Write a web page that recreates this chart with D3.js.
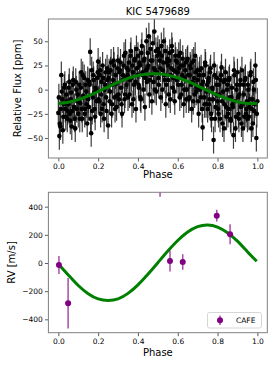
<!DOCTYPE html>
<html><head><meta charset="utf-8">
<script src="https://cdn.jsdelivr.net/npm/d3@7"></script>
<style>body{margin:0;background:#fff}svg{display:block}text{font-family:"DejaVu Sans",sans-serif;fill:#000}</style>
</head><body><svg id="c" width="274" height="366"></svg>
<script>
// ---- data ----
const titleText = "KIC 5479689";
const phaseTicks = [0, 0.2, 0.4, 0.6, 0.8, 1.0];
const fluxTicks = [-50, -25, 0, 25, 50];
const rvTicks = [-400, -200, 0, 200, 400];

const fluxPhase = [
0,.005,.01,.015,.02,.025,.03,.035,.04,.045,
.05,.055,.06,.065,.07,.075,.08,.085,.09,.095,
.1,.105,.11,.115,.12,.125,.13,.135,.14,.145,
.15,.155,.16,.165,.17,.175,.18,.185,.19,.195,
.2,.205,.21,.215,.22,.225,.23,.235,.24,.245,
.25,.255,.26,.265,.27,.275,.28,.285,.29,.295,
.3,.305,.31,.315,.32,.325,.33,.335,.34,.345,
.35,.355,.36,.365,.37,.375,.38,.385,.39,.395,
.4,.405,.41,.415,.42,.425,.43,.435,.44,.445,
.45,.455,.46,.465,.47,.475,.48,.485,.49,.495,
.5,.505,.51,.515,.52,.525,.53,.535,.54,.545,
.55,.555,.56,.565,.57,.575,.58,.585,.59,.595,
.6,.605,.61,.615,.62,.625,.63,.635,.64,.645,
.65,.655,.66,.665,.67,.675,.68,.685,.69,.695,
.7,.705,.71,.715,.72,.725,.73,.735,.74,.745,
.75,.755,.76,.765,.77,.775,.78,.785,.79,.795,
.8,.805,.81,.815,.82,.825,.83,.835,.84,.845,
.85,.855,.86,.865,.87,.875,.88,.885,.89,.895,
.9,.905,.91,.915,.92,.925,.93,.935,.94,.945,
.95,.955,.96,.965,.97,.975,.98,.985,.99,.995,1.0];
const fluxValue = [
-24,-48,-38,15,-10,-28,2,-20,-5,-30,
-15,8,-32,-3,-22,10,-18,-40,0,-12,
-25,5,-14,18,-30,-6,12,-20,-2,-35,
-10,8,39,-45,-22,15,-3,-28,0,12,
29,-12,20,-5,-20,12,-30,5,-8,22,
-37,18,-2,28,-15,10,25,-20,6,-6,
30,-10,20,2,-25,15,35,-5,12,22,
-8,28,10,40,-15,18,5,32,-20,22,
35,2,25,-10,45,15,30,-18,20,8,
38,55,10,30,-12,48,22,0,40,18,
42,5,30,-8,35,20,50,10,-15,28,
25,-5,38,15,45,2,20,-12,30,10,
18,35,-8,25,5,32,-15,12,28,0,
32,-10,15,22,-20,8,30,-5,18,2,
10,-25,20,-8,5,-39,15,-15,25,-2,
-20,12,-10,22,-30,0,-52,15,-18,5,
-12,-25,-5,10,23,-35,8,-15,18,-28,
5,-20,12,-30,-8,-15,-47,15,-40,0,
18,-25,-5,10,-35,-15,5,-28,12,-20,
-30,0,-18,15,-40,-10,8,-22,25,-50,-12];

const fluxPhase2 = [
.0025,.0075,.0125,.0175,.0225,.0275,.0325,.0375,.0425,.0475,
.0525,.0575,.0625,.0675,.0725,.0775,.0825,.0875,.0925,.0975,
.1025,.1075,.1125,.1175,.1225,.1275,.1325,.1375,.1425,.1475,
.1525,.1575,.1625,.1675,.1725,.1775,.1825,.1875,.1925,.1975,
.2025,.2075,.2125,.2175,.2225,.2275,.2325,.2375,.2425,.2475,
.2525,.2575,.2625,.2675,.2725,.2775,.2825,.2875,.2925,.2975,
.3025,.3075,.3125,.3175,.3225,.3275,.3325,.3375,.3425,.3475,
.3525,.3575,.3625,.3675,.3725,.3775,.3825,.3875,.3925,.3975,
.4025,.4075,.4125,.4175,.4225,.4275,.4325,.4375,.4425,.4475,
.4525,.4575,.4625,.4675,.4725,.4775,.4825,.4875,.4925,.4975,
.5025,.5075,.5125,.5175,.5225,.5275,.5325,.5375,.5425,.5475,
.5525,.5575,.5625,.5675,.5725,.5775,.5825,.5875,.5925,.5975,
.6025,.6075,.6125,.6175,.6225,.6275,.6325,.6375,.6425,.6475,
.6525,.6575,.6625,.6675,.6725,.6775,.6825,.6875,.6925,.6975,
.7025,.7075,.7125,.7175,.7225,.7275,.7325,.7375,.7425,.7475,
.7525,.7575,.7625,.7675,.7725,.7775,.7825,.7875,.7925,.7975,
.8025,.8075,.8125,.8175,.8225,.8275,.8325,.8375,.8425,.8475,
.8525,.8575,.8625,.8675,.8725,.8775,.8825,.8875,.8925,.8975,
.9025,.9075,.9125,.9175,.9225,.9275,.9325,.9375,.9425,.9475,
.9525,.9575,.9625,.9675,.9725,.9775,.9825,.9875,.9925,.9975];
const fluxValue2 = [
-8,-35,-20,-2,-42,-15,5,-28,-12,-22,
2,-25,-10,-38,5,-18,-30,8,-20,-5,
-12,-30,2,-20,15,-8,-25,5,-15,10,
-18,5,-30,20,-8,10,-20,2,-12,18,
-10,15,-25,8,25,-15,0,18,-22,10,
12,-12,20,-25,5,30,-8,15,-18,22,
-5,18,28,-15,10,25,-10,38,5,15,
20,-5,35,12,25,-10,30,8,42,15,
5,28,-8,38,18,0,32,12,50,22,
25,-5,42,15,30,8,60,20,-2,35,
12,38,22,45,0,28,15,40,5,32,
10,30,-10,22,40,12,-2,35,18,28,
5,22,38,-5,15,25,0,20,-10,30,
15,-8,25,5,28,-12,12,35,-2,20,
-12,15,0,22,-20,8,-8,28,-15,5,
8,-15,18,-25,2,-10,25,-30,-5,12,
-20,5,-30,15,-12,-2,-40,10,-18,0,
-25,10,-8,-32,2,-18,20,-12,-28,5,
-8,-30,5,-18,20,-40,-5,10,-25,-12,
5,-28,-10,18,-20,-35,0,-15,10,-25];
const fluxErr = 14;

const fluxModelPhase = [0,.05,.1,.15,.2,.25,.3,.35,.4,.45,.5,.55,.6,.65,.7,.75,.8,.85,.9,.95,1];
const fluxModelValue = [-14.4,-13,-10.3,-6.5,-1.9,2.9,7.6,11.6,14.6,16.2,16.4,15,12.3,8.5,3.9,-0.9,-5.6,-9.6,-12.6,-14.2,-14.4];

const rvPhase = [0.003, 0.049, 0.511, 0.561, 0.625, 0.796, 0.863];
const rvValue = [-15, -286, 640, 14, 7, 336, 204];
const rvErr = [64, 180, 170, 75, 55, 42, 71];
const rvLabel = "CAFE";

const rvModelPhase = [0,.05,.1,.15,.2,.25,.3,.35,.4,.45,.5,.55,.6,.65,.7,.75,.8,.85,.9,.95,.997];
const rvModelValue = [-8,-85,-160,-218,-255,-266,-255,-216,-155,-80,2,85,160,220,258,270,255,215,155,80,12];

// ---- drawing ----
const svg = d3.select("#c");
const tickFont = 7.5, labFont = 10;
const green = "#008000", purple = "#800080";

function panel(g, x, y, yTicks, ylab, ylabX, phaseY, clipId) {
  const [x0, x1] = x.range(), [y0, y1] = y.range();
  svg.append("defs").append("clipPath").attr("id", clipId)
    .append("rect").attr("x", x0).attr("y", y1).attr("width", x1 - x0).attr("height", y0 - y1);
  const xa = g.append("g").attr("transform", `translate(0,${y0})`)
    .call(d3.axisBottom(x).tickValues(phaseTicks).tickFormat(d3.format(".1f")).tickSize(3.5).tickPadding(2));
  const ya = g.append("g").attr("transform", `translate(${x0},0)`)
    .call(d3.axisLeft(y).tickValues(yTicks).tickFormat(d => d < 0 ? "\u2212" + Math.abs(d) : d).tickSize(3.5).tickPadding(2));
  [xa, ya].forEach(a => {
    a.select(".domain").remove();
    a.selectAll("line").attr("stroke", "#333").attr("stroke-width", 0.8);
    a.selectAll("text").attr("font-size", tickFont).attr("font-family", "DejaVu Sans").attr("fill", "#000");
  });
  g.append("text").attr("x", (x(0) + x(1)) / 2).attr("y", phaseY).attr("text-anchor", "middle")
    .attr("font-size", labFont).text("Phase");
  g.append("text").attr("transform", `translate(${ylabX},${(y0 + y1) / 2}) rotate(-90)`)
    .attr("text-anchor", "middle").attr("dominant-baseline", "central").attr("font-size", labFont).text(ylab);
  return g.append("g").attr("clip-path", `url(#${clipId})`);
}
function frame(g, x, y) {
  const [x0, x1] = x.range(), [y0, y1] = y.range();
  g.append("rect").attr("x", x0).attr("y", y1).attr("width", x1 - x0).attr("height", y0 - y1)
    .attr("fill", "none").attr("stroke", "#808080").attr("stroke-width", 1);
}

// top panel
const xTop = d3.scaleLinear().domain([-0.05, 1.05]).range([48.4, 267.3]);
const yTop = d3.scaleLinear().domain([-70.6, 73]).range([158, 19]);
const gTop = svg.append("g");
const pTop = panel(gTop, xTop, yTop, fluxTicks, "Relative Flux [ppm]", 17, 178, "clipTop");
const fluxData = fluxPhase.map((p, i) => ({p, v: fluxValue[i]}))
  .concat(fluxPhase2.map((p, i) => ({p, v: fluxValue2[i]})));
pTop.append("g").selectAll("line").data(fluxData).join("line")
  .attr("x1", d => xTop(d.p)).attr("x2", d => xTop(d.p))
  .attr("y1", d => yTop(d.v - fluxErr)).attr("y2", d => yTop(d.v + fluxErr))
  .attr("stroke", "#1a1a1a").attr("stroke-opacity", 0.85).attr("stroke-width", 1.2);
pTop.append("g").selectAll("circle").data(fluxData).join("circle")
  .attr("cx", d => xTop(d.p)).attr("cy", d => yTop(d.v)).attr("r", 2.3).attr("fill", "#000");
pTop.append("path").datum(fluxModelPhase.map((p, i) => [p, fluxModelValue[i]]))
  .attr("d", d3.line().x(d => xTop(d[0])).y(d => yTop(d[1])).curve(d3.curveNatural))
  .attr("fill", "none").attr("stroke", green).attr("stroke-width", 3);
frame(gTop, xTop, yTop);
svg.append("text").attr("x", (xTop.range()[0] + xTop.range()[1]) / 2).attr("y", 15)
  .attr("text-anchor", "middle").attr("font-size", labFont).text(titleText);

// bottom panel
const xBot = d3.scaleLinear().domain([-0.05, 1.05]).range([48.4, 267.3]);
const yBot = d3.scaleLinear().domain([-495, 502]).range([332.7, 192.3]);
const gBot = svg.append("g");
const pBot = panel(gBot, xBot, yBot, rvTicks, "RV [m/s]", 11, 355.5, "clipBot");
pBot.append("path").datum(rvModelPhase.map((p, i) => [p, rvModelValue[i]]))
  .attr("d", d3.line().x(d => xBot(d[0])).y(d => yBot(d[1])).curve(d3.curveNatural))
  .attr("fill", "none").attr("stroke", green).attr("stroke-width", 3);
const rvData = rvPhase.map((p, i) => ({p, v: rvValue[i], e: rvErr[i]}));
pBot.append("g").selectAll("line").data(rvData).join("line")
  .attr("x1", d => xBot(d.p)).attr("x2", d => xBot(d.p))
  .attr("y1", d => yBot(d.v - d.e)).attr("y2", d => yBot(d.v + d.e))
  .attr("stroke", purple).attr("stroke-opacity", 0.7).attr("stroke-width", 1.5);
pBot.append("g").selectAll("circle").data(rvData).join("circle")
  .attr("cx", d => xBot(d.p)).attr("cy", d => yBot(d.v)).attr("r", 3).attr("fill", purple);
frame(gBot, xBot, yBot);

// legend
const lg = gBot.append("g").attr("transform", "translate(207.5,312.5)");
lg.append("rect").attr("width", 54).attr("height", 15.5).attr("rx", 2)
  .attr("fill", "#fff").attr("fill-opacity", 0.8).attr("stroke", "#ccc").attr("stroke-width", 0.8);
lg.append("line").attr("x1", 12.5).attr("x2", 12.5).attr("y1", 3).attr("y2", 12.5)
  .attr("stroke", purple).attr("stroke-opacity", 0.7).attr("stroke-width", 1.5);
lg.append("circle").attr("cx", 12.5).attr("cy", 7.75).attr("r", 3).attr("fill", purple);
lg.append("text").attr("x", 28.5).attr("y", 7.75).attr("dominant-baseline", "central")
  .attr("font-size", tickFont).text(rvLabel);
</script></body></html>
